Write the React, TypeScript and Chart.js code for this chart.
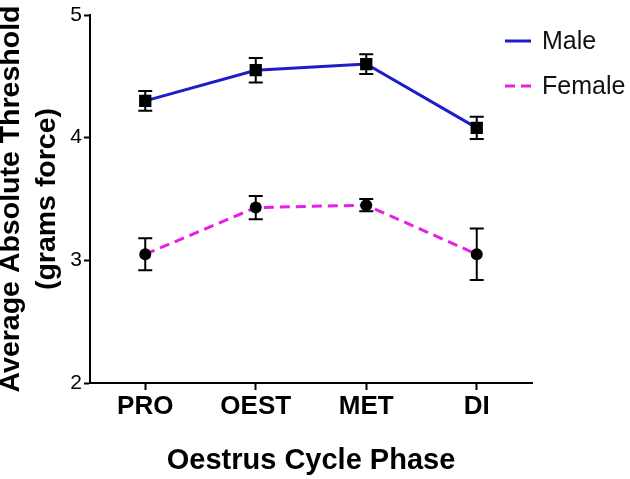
import React, { useEffect, useRef } from "react";
import { Chart, registerables } from "chart.js";

Chart.register(...registerables);

const categories = ["PRO", "OEST", "MET", "DI"];
const maleMean = [4.3, 4.55, 4.6, 4.08];
const maleErr = [0.08, 0.1, 0.08, 0.09];
const femaleMean = [3.05, 3.43, 3.45, 3.05];
const femaleErr = [0.13, 0.095, 0.05, 0.21];
const yMin = 2;
const yMax = 5;
const yStep = 1;
const seriesLabels = ["Male", "Female"];
const yTitle = ["Average Absolute Threshold", "(grams force)"];
const xTitle = "Oestrus Cycle Phase";

const FONT = '"Liberation Sans", Arial, sans-serif';

const errorBarPlugin = {
  id: "errorBars",
  afterDatasetsDraw(chart: any) {
    const { ctx } = chart;
    const yScale = chart.scales.y;
    chart.data.datasets.forEach((ds: any, di: number) => {
      const meta = chart.getDatasetMeta(di);
      const errs: number[] = ds.errors || [];
      meta.data.forEach((pt: any, i: number) => {
        const v = ds.data[i];
        const e = errs[i] || 0;
        const x = pt.x;
        const yTop = yScale.getPixelForValue(v + e);
        const yBot = yScale.getPixelForValue(v - e);
        ctx.save();
        ctx.strokeStyle = "#000";
        ctx.lineWidth = 2;
        ctx.beginPath();
        ctx.moveTo(x, yTop);
        ctx.lineTo(x, yBot);
        ctx.moveTo(x - 7, yTop);
        ctx.lineTo(x + 7, yTop);
        ctx.moveTo(x - 7, yBot);
        ctx.lineTo(x + 7, yBot);
        ctx.stroke();
        ctx.restore();
      });
    });
  },
};

const legendPlugin = {
  id: "customLegend",
  afterDraw(chart: any) {
    const { ctx } = chart;
    const x0 = 505;
    const x1 = 531;
    const rows = [41, 86];
    chart.data.datasets.forEach((ds: any, i: number) => {
      const y = rows[i];
      ctx.save();
      ctx.strokeStyle = ds.borderColor;
      ctx.lineWidth = 3;
      ctx.setLineDash(ds.borderDash || []);
      ctx.beginPath();
      ctx.moveTo(x0, y);
      ctx.lineTo(x1, y);
      ctx.stroke();
      ctx.setLineDash([]);
      ctx.fillStyle = "#111";
      ctx.font = `25px ${FONT}`;
      ctx.textBaseline = "middle";
      ctx.textAlign = "left";
      ctx.fillText(ds.label, 542, y + 1);
      ctx.restore();
    });
  },
};

export default function App() {
  const ref = useRef<HTMLCanvasElement | null>(null);

  useEffect(() => {
    document.body.style.margin = "0";
    const canvas = ref.current;
    if (!canvas) return;
    const chart = new Chart(canvas, {
      type: "line",
      data: {
        labels: categories,
        datasets: [
          {
            label: seriesLabels[0],
            data: maleMean,
            errors: maleErr,
            borderColor: "#1e1ec8",
            borderWidth: 3,
            pointStyle: "rect",
            pointRadius: 8.7,
            pointBackgroundColor: "#000",
            pointBorderColor: "#000",
            pointBorderWidth: 0,
            tension: 0,
          } as any,
          {
            label: seriesLabels[1],
            data: femaleMean,
            errors: femaleErr,
            borderColor: "#e61ee6",
            borderWidth: 3,
            borderDash: [10, 6],
            pointStyle: "circle",
            pointRadius: 6,
            pointBackgroundColor: "#000",
            pointBorderColor: "#000",
            pointBorderWidth: 0,
            tension: 0,
          } as any,
        ],
      },
      options: {
        responsive: false,
        animation: false,
        layout: { padding: { top: 15, right: 98, left: 0, bottom: 0 } },
        plugins: {
          legend: { display: false },
          tooltip: { enabled: false },
        },
        scales: {
          x: {
            type: "category",
            offset: true,
            afterFit: (s: any) => {
              s.height = 96;
            },
            border: { display: true, color: "#000", width: 2 },
            grid: {
              display: true,
              drawOnChartArea: false,
              drawTicks: true,
              tickLength: 7,
              tickColor: "#000",
              tickWidth: 2,
              offset: false,
            },
            ticks: {
              color: "#000",
              padding: 1,
              font: { family: FONT, size: 26, weight: "bold" },
              maxRotation: 0,
            },
            title: {
              display: true,
              text: xTitle,
              color: "#000",
              padding: { top: 0, bottom: 1 },
              font: { family: FONT, size: 29, weight: "bold", lineHeight: 1.2 },
            },
          },
          y: {
            min: yMin,
            max: yMax,
            afterFit: (s: any) => {
              s.width = 90;
            },
            border: { display: true, color: "#000", width: 2 },
            grid: {
              display: true,
              drawOnChartArea: false,
              drawTicks: true,
              tickLength: 6,
              tickColor: "#000",
              tickWidth: 2,
            },
            ticks: {
              stepSize: yStep,
              color: "#000",
              padding: 2,
              font: { family: FONT, size: 21 },
            },
            title: {
              display: true,
              text: yTitle,
              color: "#000",
              padding: { top: -7, bottom: 0 },
              font: { family: FONT, size: 28.5, weight: "bold", lineHeight: 1.27 },
            },
          },
        },
      } as any,
      plugins: [errorBarPlugin, legendPlugin],
    });
    return () => chart.destroy();
  }, []);

  return (
    <div style={{ position: "absolute", left: 0, top: 0, width: 630, height: 479, background: "#fff" }}>
      <canvas ref={ref} width={630} height={479} style={{ width: 630, height: 479 }} />
    </div>
  );
}
